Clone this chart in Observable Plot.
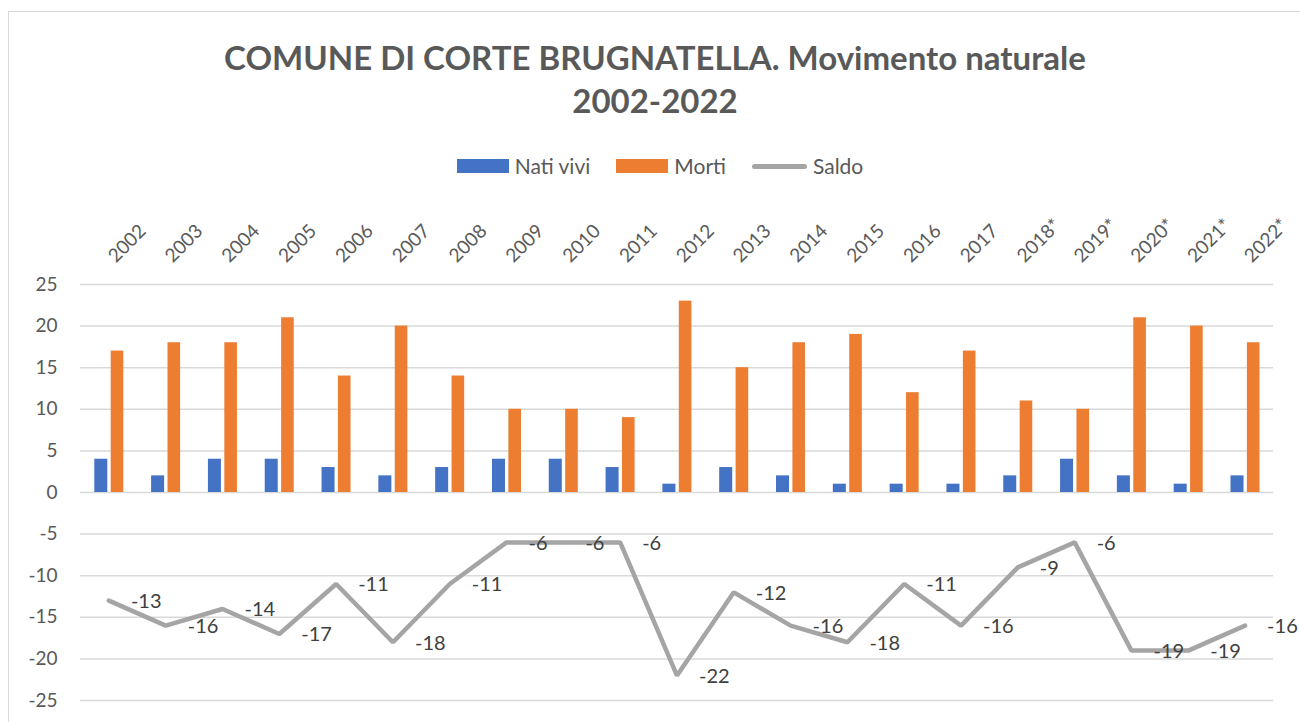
<!DOCTYPE html>
<html>
<head>
<meta charset="utf-8">
<script src="https://cdn.jsdelivr.net/npm/d3@7"></script>
<script src="https://cdn.jsdelivr.net/npm/@observablehq/plot@0.6"></script>
<style>
  html, body { margin: 0; padding: 0; background: #ffffff; }
  body { width: 1300px; height: 722px; position: relative; overflow: hidden; font-family: Lato, "Open Sans", sans-serif; }
  #frame { position: absolute; left: 8px; top: 11px; width: 1400px; height: 800px; border-top: 1.5px solid #d9d9d9; border-left: 1.5px solid #d9d9d9; box-sizing: border-box; }
  #title { position: absolute; left: 10px; width: 1290px; top: 36px; text-align: center; font-weight: bold; font-size: 33px; line-height: 43px; color: #595959; }
  #legend { position: absolute; top: 155px; left: 0; width: 1320px; display: flex; justify-content: center; align-items: center; gap: 26px; font-size: 21px; color: #595959; line-height: 22px; }
  .item { display: flex; align-items: center; gap: 6px; }
  .sw { width: 52px; height: 14px; }
  .ln { width: 55px; height: 5px; border-radius: 3px; background: #A5A5A5; }
  #chart { position: absolute; left: 0; top: 195px; }
</style>
</head>
<body>
<div id="frame"></div>
<div id="title">COMUNE DI CORTE BRUGNATELLA. Movimento naturale<br>2002-2022</div>
<div id="legend"></div>
<div id="chart"></div>
<script>
const years = ["2002","2003","2004","2005","2006","2007","2008","2009","2010","2011","2012","2013","2014","2015","2016","2017","2018*","2019*","2020*","2021*","2022*"];
const natiVivi = [4,2,4,4,3,2,3,4,4,3,1,3,2,1,1,1,2,4,2,1,2];
const morti = [17,18,18,21,14,20,14,10,10,9,23,15,18,19,12,17,11,10,21,20,18];
const saldo = [-13,-16,-14,-17,-11,-18,-11,-6,-6,-6,-22,-12,-16,-18,-11,-16,-9,-6,-19,-19,-16];
const seriesNames = ["Nati vivi", "Morti", "Saldo"];
const seriesColors = ["#4472C4", "#ED7D31", "#A5A5A5"];
const yTicks = [-25,-20,-15,-10,-5,0,5,10,15,20,25];

const rows = years.map((y, i) => ({year: y, nati: natiVivi[i], morti: morti[i], saldo: saldo[i]}));

// legend
const legend = document.getElementById("legend");
seriesNames.forEach((name, i) => {
  const it = document.createElement("div");
  it.className = "item";
  const sw = document.createElement("div");
  if (i < 2) { sw.className = "sw"; sw.style.background = seriesColors[i]; }
  else { sw.className = "ln"; }
  const tx = document.createElement("span");
  tx.textContent = name;
  it.appendChild(sw); it.appendChild(tx);
  legend.appendChild(it);
});

const chart = Plot.plot({
  width: 1300,
  height: 527,
  marginTop: 89,
  marginLeft: 80,
  marginRight: 27,
  marginBottom: 22,
  style: {fontFamily: "Lato, 'Open Sans', sans-serif", fontSize: "19px", color: "#595959", background: "transparent", overflow: "visible"},
  x: {type: "band", domain: years, padding: 0, round: false, label: null},
  y: {domain: [-25, 25], label: null},
  marks: [
    Plot.gridY({ticks: yTicks, stroke: "#D9D9D9", strokeOpacity: 1, strokeWidth: 1.5}),
    Plot.axisY({ticks: yTicks, tickSize: 0, tickPadding: 23, tickFormat: d => String(d), label: null, fill: "#595959"}),
    Plot.axisX({anchor: "top", tickSize: 0, tickPadding: 21, tickRotate: -45, textAnchor: "start", lineAnchor: "bottom", dx: 7, label: null, fill: "#595959"}),
    Plot.barY(rows, {x: "year", y: "nati", fill: seriesColors[0], insetLeft: 14.3, insetRight: 29.5}),
    Plot.barY(rows, {x: "year", y: "morti", fill: seriesColors[1], insetLeft: 30.7, insetRight: 13.5}),
    Plot.line(rows, {x: "year", y: "saldo", stroke: seriesColors[2], strokeWidth: 4.5, strokeLinejoin: "miter"}),
    Plot.text(rows, {x: "year", y: "saldo", text: d => String(d.saldo), dx: 22, dy: 1, textAnchor: "start", lineAnchor: "middle", fill: "#404040", fontSize: 20})
  ]
});
document.getElementById("chart").appendChild(chart);
</script>
</body>
</html>
